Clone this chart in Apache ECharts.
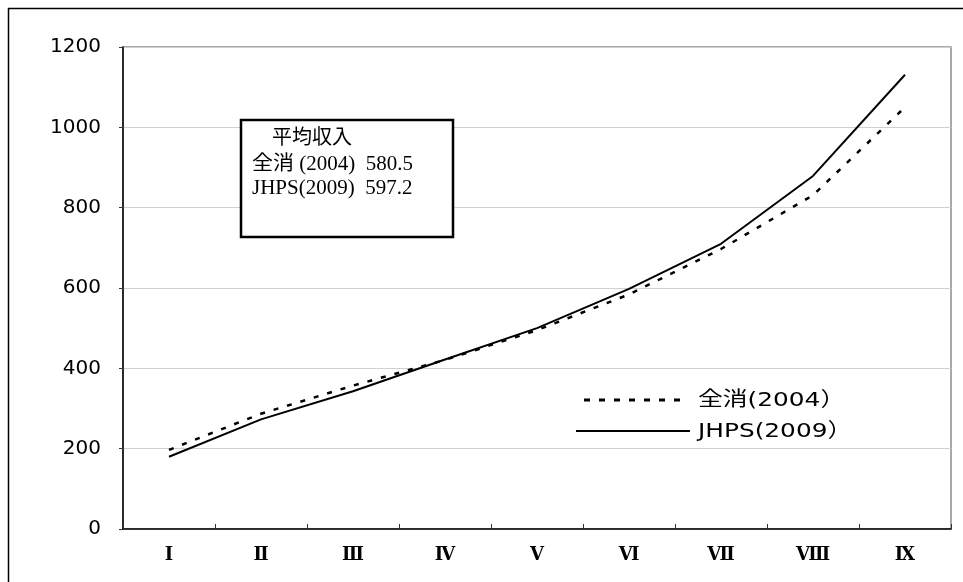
<!DOCTYPE html>
<html>
<head>
<meta charset="utf-8">
<script src="https://cdn.jsdelivr.net/npm/echarts@6/dist/echarts.min.js"></script>
<style>html,body{margin:0;padding:0;background:#fff;}#c{width:963px;height:582px;}</style>
</head>
<body>
<div id="c"></div>
<script>
var categories = ['Ⅰ','Ⅱ','Ⅲ','Ⅳ','Ⅴ','Ⅵ','Ⅶ','Ⅷ','Ⅸ'];
var zenshou2004 = [197, 287, 357, 421, 495, 584, 697, 831, 1050];
var jhps2009 = [180, 273, 343, 422, 500, 598, 710, 879, 1131];
var seriesNames = ['全消(2004）', 'JHPS(2009）'];
var boxLines = ['平均収入', '全消 (2004)  580.5', 'JHPS(2009)  597.2'];
var yTicks = [0, 200, 400, 600, 800, 1000, 1200];

var chart = echarts.init(document.getElementById('c'), null, {renderer: 'canvas'});
var serifFont = "'Liberation Serif', 'DejaVu Serif', 'Noto Sans CJK JP', serif";
var sansFont = "'DejaVu Sans', 'Noto Sans CJK JP', sans-serif";

function txt(s, x, y, font, sx) {
  return {type: 'text', z: 101, x: x, y: y, scaleX: sx, silent: true,
          style: {text: s, x: 0, y: 0, font: font, fill: '#000', textVerticalAlign: 'middle'}};
}

chart.setOption({
  animation: false,
  backgroundColor: '#fff',
  grid: {left: 123, right: 12, top: 47, bottom: 53, show: true, borderColor: '#8c8c8c', borderWidth: 1.5},
  xAxis: {
    type: 'category',
    data: categories,
    boundaryGap: true,
    axisLine: {lineStyle: {color: '#000', width: 1.5}},
    axisTick: {show: true, inside: true, length: 5, interval: 0, lineStyle: {color: '#333'}},
    axisLabel: {color: '#000', fontSize: 18, fontWeight: 'bold', fontFamily: "'DejaVu Serif', 'Liberation Serif', serif", margin: 17, interval: 0}
  },
  yAxis: {
    type: 'value',
    min: yTicks[0], max: yTicks[yTicks.length - 1], interval: 200,
    axisLine: {show: true, lineStyle: {color: '#000', width: 1.5}},
    axisTick: {show: true, length: 4, lineStyle: {color: '#333'}},
    axisLabel: {color: '#000', fontSize: 20, fontFamily: sansFont, margin: 22,
                formatter: function (v) { return String(v); }},
    splitLine: {lineStyle: {color: '#d0d0d0', width: 1}}
  },
  series: [
    {name: seriesNames[0], type: 'line', data: zenshou2004, symbol: 'none', z: 3,
     lineStyle: {color: '#000', width: 2.5, type: [5, 9]}},
    {name: seriesNames[1], type: 'line', data: jhps2009, symbol: 'none', z: 4,
     lineStyle: {color: '#000', width: 2}}
  ],
  graphic: [
    {type: 'rect', z: 100, silent: true,
     shape: {x: 8.5, y: 8.5, width: 970, height: 590},
     style: {fill: 'none', stroke: '#000', lineWidth: 1.5}},
    {type: 'rect', z: 100, silent: true,
     shape: {x: 241, y: 120, width: 212, height: 117},
     style: {fill: '#fff', stroke: '#000', lineWidth: 2.5}},
    txt(boxLines[0], 272, 139, '20px ' + serifFont, 1.0),
    txt(boxLines[1], 252, 165, '20px ' + serifFont, 1.05),
    txt(boxLines[2], 252, 189, '20px ' + serifFont, 1.05),
    {type: 'line', z: 100, silent: true, shape: {x1: 584, y1: 400, x2: 687, y2: 400}, style: {stroke: '#000', lineWidth: 3, lineDash: [6, 9]}},
    {type: 'line', z: 100, silent: true, shape: {x1: 576, y1: 431, x2: 690, y2: 431}, style: {stroke: '#000', lineWidth: 2}},
    txt(seriesNames[0], 698, 401, '20px ' + sansFont, 1.24),
    txt(seriesNames[1], 698, 432, '20px ' + sansFont, 1.24)
  ]
});
</script>
</body>
</html>
